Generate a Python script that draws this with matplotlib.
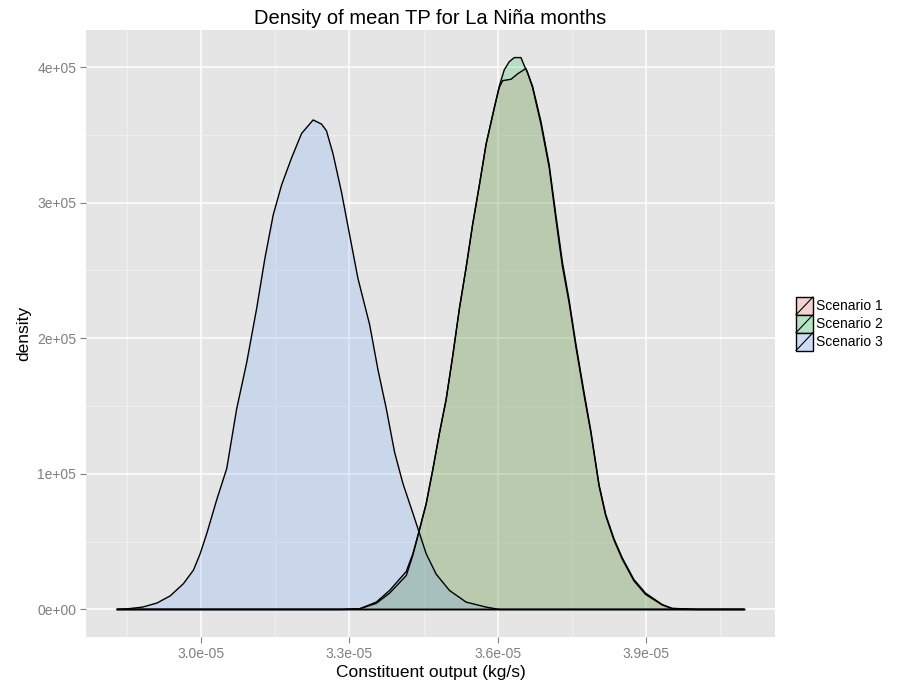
import numpy as np
import matplotlib
matplotlib.use("Agg")
import matplotlib.pyplot as plt
from matplotlib.patches import Rectangle
from matplotlib.lines import Line2D
from matplotlib.legend_handler import HandlerBase

plt.rcParams['font.family'] = ['Liberation Sans', 'DejaVu Sans']

# valores: x en kg/s (x1e-5), densidad (x1e5)
esc3_x = [2.8305, 2.8527, 2.8815, 2.9106, 2.9375, 2.9643, 2.9845, 2.998, 3.0115, 3.0317,
          3.0519, 3.072, 3.0922, 3.1124, 3.1291, 3.1459, 3.1628, 3.183, 3.2032, 3.2266,
          3.2435, 3.2536, 3.2669, 3.2839, 3.3006, 3.3174, 3.341, 3.3577, 3.3747, 3.3914,
          3.4082, 3.4284, 3.4419, 3.4554, 3.4756, 3.5024, 3.5361, 3.5765, 3.6033, 4.0977]
esc3_y = [0.0, 0.005, 0.017, 0.047, 0.10, 0.19, 0.29, 0.41, 0.56, 0.81,
          1.04, 1.48, 1.82, 2.22, 2.59, 2.91, 3.13, 3.33, 3.51, 3.61,
          3.58, 3.53, 3.36, 3.08, 2.76, 2.44, 2.10, 1.77, 1.48, 1.16,
          0.93, 0.71, 0.56, 0.41, 0.26, 0.14, 0.054, 0.017, 0.0, 0.0]

esc2_x = [2.8305, 3.2839, 3.3208, 3.3545, 3.3814, 3.4151, 3.4284, 3.4405, 3.4554, 3.4687,
          3.4822, 3.4958, 3.5091, 3.5226, 3.5361, 3.5494, 3.563, 3.5765, 3.5932, 3.6033,
          3.6134, 3.6235, 3.6336, 3.6471, 3.6538, 3.6604, 3.6705, 3.6875, 3.7042, 3.7177,
          3.731, 3.7446, 3.7581, 3.7748, 3.7883, 3.8051, 3.8186, 3.8354, 3.8521, 3.8757,
          3.8993, 3.9328, 3.953, 3.9933, 4.0977]
esc2_y = [0.0, 0.0, 0.005, 0.054, 0.14, 0.28, 0.41, 0.57, 0.78, 1.03,
          1.30, 1.55, 1.87, 2.22, 2.52, 2.84, 3.13, 3.43, 3.70, 3.86,
          3.98, 4.04, 4.07, 4.07, 4.01, 3.96, 3.85, 3.58, 3.26, 2.88,
          2.53, 2.26, 1.94, 1.58, 1.31, 0.91, 0.69, 0.51, 0.37, 0.21,
          0.11, 0.033, 0.006, 0.0, 0.0]

esc1_x = [2.8305, 3.2839, 3.3208, 3.3545, 3.3814, 3.4151, 3.4284, 3.4405, 3.4554, 3.4687,
          3.4822, 3.4958, 3.5091, 3.5226, 3.5361, 3.5494, 3.563, 3.5765, 3.5932, 3.6033,
          3.6100, 3.6269, 3.6403, 3.6571, 3.6705, 3.6875, 3.7042, 3.7177,
          3.731, 3.7446, 3.7581, 3.7748, 3.7883, 3.8051, 3.8186, 3.8354, 3.8521, 3.8757,
          3.8993, 3.9328, 3.953, 4.0033, 4.0977]
esc1_y = [0.0, 0.0, 0.004, 0.045, 0.12, 0.25, 0.40, 0.57, 0.78, 1.03,
          1.30, 1.55, 1.87, 2.22, 2.52, 2.84, 3.13, 3.43, 3.70, 3.85,
          3.90, 3.91, 3.95, 3.99, 3.86, 3.60, 3.28, 2.91,
          2.56, 2.28, 1.96, 1.60, 1.32, 0.92, 0.70, 0.52, 0.38, 0.22,
          0.12, 0.036, 0.008, 0.0, 0.0]

escenarios = ['Scenario 1', 'Scenario 2', 'Scenario 3']
colores = ['#F8766D', '#00BA38', '#619CFF']
series = [(esc1_x, esc1_y), (esc2_x, esc2_y), (esc3_x, esc3_y)]

x_ticks = [3.0e-5, 3.3e-5, 3.6e-5, 3.9e-5]
x_labels = ['3.0e-05', '3.3e-05', '3.6e-05', '3.9e-05']
y_ticks = [0, 1e5, 2e5, 3e5, 4e5]
y_labels = ['0e+00', '1e+05', '2e+05', '3e+05', '4e+05']

fig = plt.figure(figsize=(9.05, 6.91), dpi=100)
ax = fig.add_axes([86 / 905, 1 - 637 / 691, (775 - 86) / 905, (637 - 30) / 691])
ax.set_facecolor('#E5E5E5')

for (xs, ys), col in zip(series, colores):
    xs = np.array(xs) * 1e-5
    ys = np.array(ys) * 1e5
    ax.fill_between(xs, 0, ys, facecolor=col, alpha=0.2, edgecolor='none', zorder=2)
    ax.plot(xs, ys, color='black', lw=1.0, zorder=3)
    ax.plot([xs[0], xs[-1]], [0, 0], color='black', lw=1.0, zorder=3)

# limites con expansion del 5% al estilo ggplot
xmin, xmax = 2.8305e-5, 4.0977e-5
ymax = 4.07e5
ax.set_xlim(xmin - 0.05 * (xmax - xmin), xmax + 0.05 * (xmax - xmin))
ax.set_ylim(-0.05 * ymax, ymax * 1.05)

ax.set_xticks(x_ticks)
ax.set_xticklabels(x_labels)
ax.set_yticks(y_ticks)
ax.set_yticklabels(y_labels)
ax.set_xticks([2.85e-5, 3.15e-5, 3.45e-5, 3.75e-5, 4.05e-5], minor=True)
ax.set_yticks([0.5e5, 1.5e5, 2.5e5, 3.5e5], minor=True)
ax.grid(True, which='major', color='white', lw=1.1, zorder=0)
ax.grid(True, which='minor', color='#F2F2F2', lw=0.6, zorder=0)
ax.set_axisbelow(True)
ax.tick_params(which='minor', length=0)
ax.tick_params(which='major', length=4, width=0.8, color='#7F7F7F',
               labelcolor='#7F7F7F', labelsize=10, pad=3)
for s in ax.spines.values():
    s.set_visible(False)

ax.set_title('Density of mean TP for La Niña months', fontsize=14.5, pad=4)
ax.set_xlabel('Constituent output (kg/s)', fontsize=12.5, labelpad=3)
ax.set_ylabel('density', fontsize=12.5, labelpad=4)


class ClaveDensidad(HandlerBase):
    def create_artists(self, legend, orig_handle, xdescent, ydescent, width, height, fontsize, trans):
        fondo = Rectangle((-xdescent, -ydescent), width, height, facecolor='#F2F2F2',
                          edgecolor='none', transform=trans)
        r = Rectangle((-xdescent, -ydescent), width, height, facecolor=orig_handle.get_facecolor(),
                      edgecolor='black', lw=1.0, transform=trans)
        diag = Line2D([-xdescent, -xdescent + width], [-ydescent, -ydescent + height],
                      color='black', lw=0.8, transform=trans)
        return [fondo, r, diag]


handles = [Rectangle((0, 0), 1, 1, facecolor=matplotlib.colors.to_rgba(c, 0.25)) for c in colores]
fig.legend(handles, escenarios, handler_map={Rectangle: ClaveDensidad()},
           loc='upper left', bbox_to_anchor=(796 / 905, 1 - 297 / 691),
           frameon=False, fontsize=10, handlelength=1.22, handleheight=1.6,
           labelspacing=0.0, handletextpad=0.25, borderpad=0, borderaxespad=0)

fig.savefig('out.png', dpi=100)
